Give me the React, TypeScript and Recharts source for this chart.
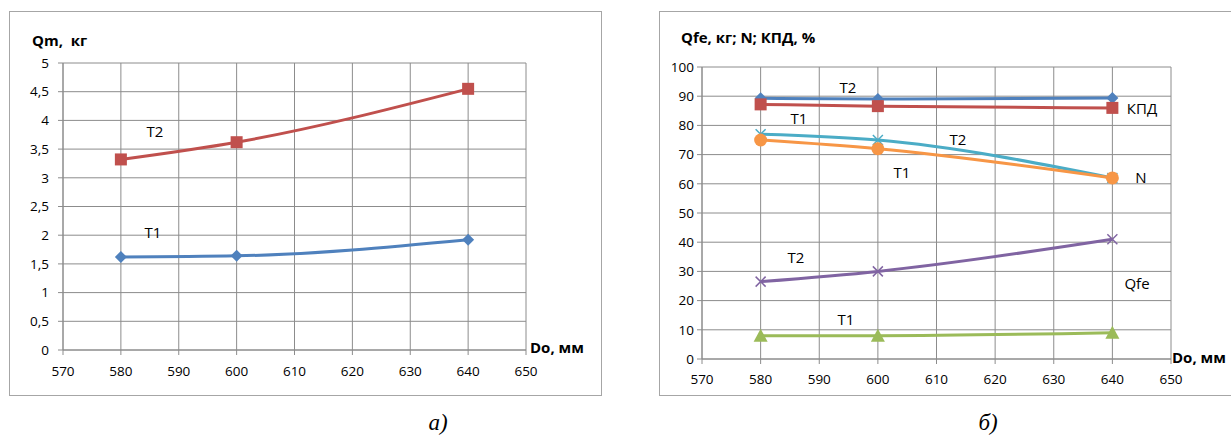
import { CartesianGrid, Line, LineChart, XAxis, YAxis } from "recharts";

// diameters Do, mm
const diameters = [580, 600, 640];
const xTicks = [570, 580, 590, 600, 610, 620, 630, 640, 650];

// a) Qm, kg
const qmT1 = [1.62, 1.64, 1.92];
const qmT2 = [3.32, 3.62, 4.55];
const qmTicks = [0, 0.5, 1, 1.5, 2, 2.5, 3, 3.5, 4, 4.5, 5];

// б) Qfe, kg; N; КПД, %
const kpdT2 = [89.3, 89, 89.4];
const kpdT1 = [87.2, 86.6, 86];
const nT2 = [77, 75, 62];
const nT1 = [75, 72, 62];
const qfeT2 = [26.5, 30, 41];
const qfeT1 = [8, 8, 9];
const pctTicks = [0, 10, 20, 30, 40, 50, 60, 70, 80, 90, 100];

const leftData = diameters.map((d, i) => ({ d, t1: qmT1[i], t2: qmT2[i] }));
const rightData = diameters.map((d, i) => ({
  d,
  kpdT2: kpdT2[i],
  kpdT1: kpdT1[i],
  nT2: nT2[i],
  nT1: nT1[i],
  qfeT2: qfeT2[i],
  qfeT1: qfeT1[i],
}));

const FONT = "'Open Sans', 'DejaVu Sans', sans-serif";
const GRID = "#8c8c8c";

const BLUE = "#4f81bd";
const RED = "#c0504d";
const TEAL = "#4bacc6";
const ORANGE = "#f79646";
const PURPLE = "#8064a2";
const GREEN = "#9bbb59";

const tickStyle = { fontFamily: FONT, fontSize: 13.5, fill: "#000" };

const Diamond = ({ cx, cy, fill }: any) => (
  <polygon
    points={`${cx},${cy - 6} ${cx + 6},${cy} ${cx},${cy + 6} ${cx - 6},${cy}`}
    fill={fill}
  />
);
const Square = ({ cx, cy, fill }: any) => (
  <rect x={cx - 6} y={cy - 6} width={12} height={12} fill={fill} />
);
const Circle = ({ cx, cy, fill }: any) => (
  <circle cx={cx} cy={cy} r={6.5} fill={fill} />
);
const Triangle = ({ cx, cy, fill }: any) => (
  <polygon
    points={`${cx},${cy - 7} ${cx + 7},${cy + 6} ${cx - 7},${cy + 6}`}
    fill={fill}
  />
);
const Cross = ({ cx, cy, stroke }: any) => (
  <g stroke={stroke} strokeWidth={1.5}>
    <line x1={cx - 5} y1={cy - 5} x2={cx + 5} y2={cy + 5} />
    <line x1={cx - 5} y1={cy + 5} x2={cx + 5} y2={cy - 5} />
  </g>
);

const dotOf =
  (Shape: any, color: string) =>
  (props: any) => (
    <Shape key={props.index} cx={props.cx} cy={props.cy} fill={color} stroke={color} />
  );

const Note = ({ x, y, children }: any) => (
  <div
    style={{
      position: "absolute",
      left: x,
      top: y,
      transform: "translate(-50%, -50%)",
      fontFamily: FONT,
      fontSize: 15,
      whiteSpace: "nowrap",
      color: "#000",
      lineHeight: 1,
    }}
  >
    {children}
  </div>
);

const Caption = ({ x, children }: any) => (
  <div
    style={{
      position: "absolute",
      left: x,
      top: 422,
      transform: "translate(-50%, -50%)",
      fontFamily: "'Liberation Serif', serif",
      fontStyle: "italic",
      fontSize: 23,
      lineHeight: 1,
    }}
  >
    {children}
  </div>
);

const fmt = (v: number) => String(v).replace(".", ",");

const axisCommon = {
  tick: tickStyle,
  tickSize: 5,
  interval: 0 as const,
  axisLine: { stroke: GRID },
  tickLine: { stroke: GRID },
};

export default function App() {
  return (
    <div
      style={{
        position: "absolute",
        left: 0,
        top: 0,
        width: 1231,
        height: 447,
        overflow: "hidden",
        background: "#fff",
      }}
    >
      {/* frame a) */}
      <div
        style={{
          position: "absolute",
          left: 9,
          top: 11,
          width: 591,
          height: 383,
          border: "1px solid #a6a6a6",
        }}
      />
      {/* frame б) */}
      <div
        style={{
          position: "absolute",
          left: 659,
          top: 11,
          width: 600,
          height: 383,
          border: "1px solid #a6a6a6",
        }}
      />

      <div style={{ position: "absolute", left: 0, top: 0 }}>
        <LineChart
          width={620}
          height={447}
          data={leftData}
          margin={{ top: 63, left: 13, right: 94, bottom: 67 }}
        >
          <CartesianGrid stroke={GRID} strokeWidth={1} />
          <XAxis
            {...axisCommon}
            dataKey="d"
            type="number"
            domain={[570, 650]}
            ticks={xTicks}
            height={30}
            tickMargin={11}
          />
          <YAxis
            {...axisCommon}
            type="number"
            domain={[0, 5]}
            ticks={qmTicks}
            width={50}
            tickFormatter={fmt}
            tickMargin={9}
          />
          <Line
            dataKey="t1"
            type="monotone"
            stroke={BLUE}
            strokeWidth={3}
            dot={dotOf(Diamond, BLUE)}
            isAnimationActive={false}
          />
          <Line
            dataKey="t2"
            type="monotone"
            stroke={RED}
            strokeWidth={3}
            dot={dotOf(Square, RED)}
            isAnimationActive={false}
          />
        </LineChart>
      </div>

      <div style={{ position: "absolute", left: 620, top: 0 }}>
        <LineChart
          width={611}
          height={447}
          data={rightData}
          margin={{ top: 67, left: 32, right: 60, bottom: 58 }}
        >
          <CartesianGrid stroke={GRID} strokeWidth={1} />
          <XAxis
            {...axisCommon}
            dataKey="d"
            type="number"
            domain={[570, 650]}
            ticks={xTicks}
            height={30}
            tickMargin={10}
          />
          <YAxis
            {...axisCommon}
            type="number"
            domain={[0, 100]}
            ticks={pctTicks}
            width={50}
            tickMargin={3}
          />
          <Line dataKey="qfeT1" type="monotone" stroke={GREEN} strokeWidth={3} dot={dotOf(Triangle, GREEN)} isAnimationActive={false} />
          <Line dataKey="qfeT2" type="monotone" stroke={PURPLE} strokeWidth={3} dot={dotOf(Cross, PURPLE)} isAnimationActive={false} />
          <Line dataKey="nT2" type="monotone" stroke={TEAL} strokeWidth={3} dot={dotOf(Cross, TEAL)} isAnimationActive={false} />
          <Line dataKey="nT1" type="monotone" stroke={ORANGE} strokeWidth={3} dot={dotOf(Circle, ORANGE)} isAnimationActive={false} />
          <Line dataKey="kpdT2" type="monotone" stroke={BLUE} strokeWidth={3} dot={dotOf(Diamond, BLUE)} isAnimationActive={false} />
          <Line dataKey="kpdT1" type="monotone" stroke={RED} strokeWidth={3} dot={dotOf(Square, RED)} isAnimationActive={false} />
        </LineChart>
      </div>

      {/* a) texts */}
      <div style={{ position: "absolute", left: 32, top: 30, fontFamily: FONT, fontWeight: 700, fontSize: 15, whiteSpace: "pre" }}>
        {"Qm,  кг"}
      </div>
      <div style={{ position: "absolute", left: 530, top: 337, fontFamily: FONT, fontWeight: 700, fontSize: 15 }}>
        Do, мм
      </div>
      <Note x={155} y={131}>Т2</Note>
      <Note x={153} y={232}>Т1</Note>
      <Caption x={438}>а)</Caption>

      {/* б) texts */}
      <div style={{ position: "absolute", left: 681, top: 27, fontFamily: FONT, fontWeight: 700, fontSize: 15 }}>
        Qfe, кг; N; КПД, %
      </div>
      <div style={{ position: "absolute", left: 1172, top: 347, fontFamily: FONT, fontWeight: 700, fontSize: 15, whiteSpace: "nowrap" }}>
        Do, мм
      </div>
      <Note x={848} y={87}>Т2</Note>
      <Note x={799} y={118}>Т1</Note>
      <Note x={958} y={139}>Т2</Note>
      <Note x={902} y={172}>Т1</Note>
      <Note x={1142} y={108}>КПД</Note>
      <Note x={1141} y={177}>N</Note>
      <Note x={1137} y={283}>Qfe</Note>
      <Note x={796} y={257}>Т2</Note>
      <Note x={846} y={319}>Т1</Note>
      <Caption x={988}>б)</Caption>
    </div>
  );
}
